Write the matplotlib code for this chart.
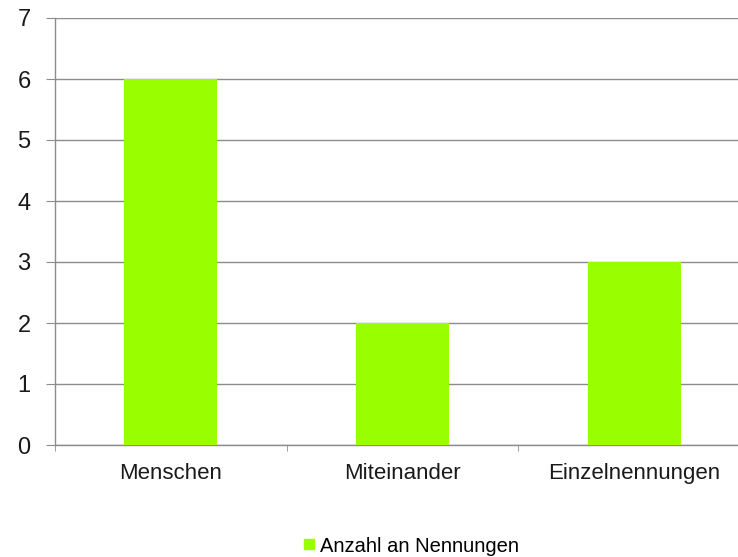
import matplotlib.pyplot as plt
from matplotlib.lines import Line2D

categories = ['Menschen', 'Miteinander', 'Einzelnennungen']
nennungen = [6, 2, 3]
y_ticks = [0, 1, 2, 3, 4, 5, 6, 7]
legend_label = 'Anzahl an Nennungen'

bar_color = '#99ff00'
line_color = '#8c8c8c'

plt.rcParams['font.family'] = ['Liberation Sans', 'DejaVu Sans']

fig = plt.figure(figsize=(7.38, 5.57), dpi=100)
ax = fig.add_axes([55 / 738, 1 - 445 / 557, 695 / 738, 427 / 557])

x = list(range(len(categories)))
ax.bar(x, nennungen, width=0.4, color=bar_color, zorder=3)

ax.set_xlim(-0.5, 2.5)
ax.set_ylim(0, 7)
ax.set_yticks(y_ticks)
ax.grid(axis='y', color=line_color, linewidth=1, zorder=0)

ax.set_xticks(x)
ax.set_xticklabels(categories)
ax.set_xticks([-0.5, 0.5, 1.5, 2.5], minor=True)
ax.tick_params(axis='x', which='major', length=0, pad=13, labelsize=16, colors='#1a1a1a')
ax.tick_params(axis='x', which='minor', length=4, color=line_color, direction='out')
ax.tick_params(axis='y', length=6.5, color=line_color, pad=11, labelsize=17, colors='#1a1a1a')
ax.tick_params(axis='y', colors=line_color, labelcolor='#1a1a1a')

for side in ['top', 'right']:
    ax.spines[side].set_visible(False)
for side in ['left', 'bottom']:
    ax.spines[side].set_color(line_color)
    ax.spines[side].set_linewidth(1)

handle = Line2D([], [], marker='s', linestyle='none', markersize=7.5,
                markerfacecolor=bar_color, markeredgecolor=bar_color)
fig.legend([handle], [legend_label], loc='center', bbox_to_anchor=(410 / 738, 1 - 546 / 557),
           frameon=False, fontsize=14.5, handletextpad=0.1, handlelength=0.8)

fig.savefig('out.png', dpi=100)
